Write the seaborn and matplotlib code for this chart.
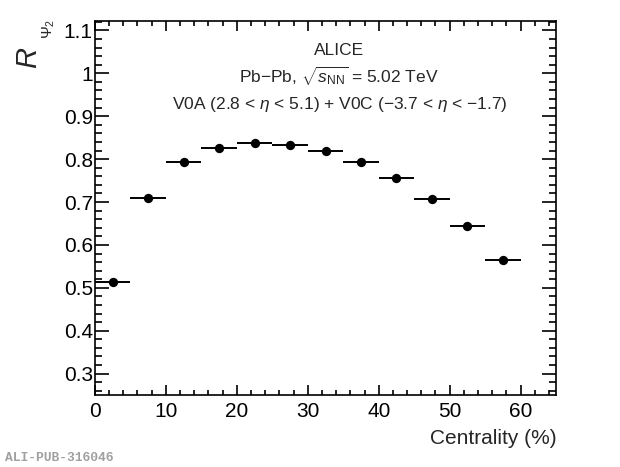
import numpy as np
import pandas as pd
import matplotlib
matplotlib.use("Agg")
import matplotlib.pyplot as plt
from matplotlib.ticker import MultipleLocator
import seaborn as sns

bin_low = [0, 5, 10, 15, 20, 25, 30, 35, 40, 45, 50, 55]
bin_high = [5, 10, 15, 20, 25, 30, 35, 40, 45, 50, 55, 60]
r_psi2 = [0.514, 0.709, 0.793, 0.826, 0.837, 0.833, 0.819, 0.793, 0.757, 0.707, 0.644, 0.565]
y_tick_labels = ['0.3', '0.4', '0.5', '0.6', '0.7', '0.8', '0.9', '1', '1.1']

df = pd.DataFrame({'low': bin_low, 'high': bin_high, 'R': r_psi2})
df['centre'] = (df['low'] + df['high']) / 2
df['half'] = (df['high'] - df['low']) / 2

sns.set_theme(style="ticks")
plt.rcParams['font.family'] = ['Liberation Sans', 'DejaVu Sans']
plt.rcParams['mathtext.fontset'] = 'custom'
plt.rcParams['mathtext.rm'] = 'Liberation Sans'
plt.rcParams['mathtext.it'] = 'Liberation Sans:italic'
plt.rcParams['mathtext.bf'] = 'Liberation Sans:bold'

fig = plt.figure(figsize=(6.2, 4.67), dpi=100)
ax = fig.add_axes([0.153, 0.154, 0.744, 0.802])

ax.errorbar(df['centre'], df['R'], xerr=df['half'], fmt='none', ecolor='black',
            elinewidth=1.4, capsize=0, zorder=2)
sns.scatterplot(data=df, x='centre', y='R', ax=ax, color='black', s=45,
                edgecolor='black', linewidth=0, zorder=3)

ax.set_xlim(0, 65)
ax.set_ylim(0.25, 1.123)
ax.xaxis.set_major_locator(MultipleLocator(10))
ax.xaxis.set_minor_locator(MultipleLocator(2))
ax.yaxis.set_minor_locator(MultipleLocator(0.02))
ax.set_yticks(np.arange(0.3, 1.11, 0.1))
ax.set_yticklabels(y_tick_labels)

ax.tick_params(which='both', direction='in', top=True, right=True, width=1.2,
               colors='black', labelsize=15)
ax.tick_params(axis='x', which='major', length=7.5, pad=5)
ax.tick_params(axis='x', which='minor', length=3.5)
ax.tick_params(axis='y', which='major', length=10, pad=1.5)
ax.tick_params(axis='y', which='minor', length=5)
for sp in ax.spines.values():
    sp.set_linewidth(1.2)
    sp.set_color('black')

ax.set_xlabel('Centrality (%)', fontsize=15, loc='right', labelpad=6)
ax.set_ylabel('')
fig.text(0.046, 0.875, r'$R$', fontsize=21, rotation=90, ha='center', va='center')
fig.text(0.079, 0.938, r'$\Psi_2$', fontsize=11, rotation=90, ha='center', va='center')

ax.text(0.53, 0.92, 'ALICE', transform=ax.transAxes, ha='center', va='center', fontsize=12.5)
ax.text(0.53, 0.85, r'Pb$-$Pb, $\sqrt{s_{\rm NN}}$ = 5.02 TeV', transform=ax.transAxes,
        ha='center', va='center', fontsize=12.5)
ax.text(0.53, 0.775, r'V0A (2.8 < $\eta$ < 5.1) + V0C ($-$3.7 < $\eta$ < $-$1.7)',
        transform=ax.transAxes, ha='center', va='center', fontsize=12.5)

fig.text(0.008, 0.012, 'ALI-PUB-316046', fontsize=9.4, color='#a0a0a0',
         family='Liberation Mono', weight='bold')

fig.savefig('out.png', dpi=100)
